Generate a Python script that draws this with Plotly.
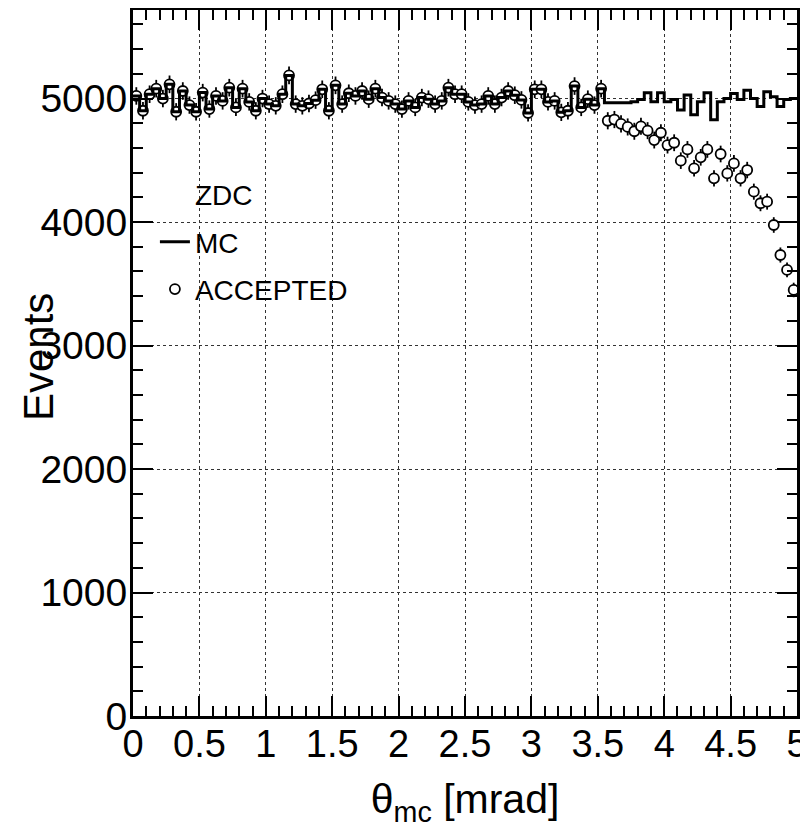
import numpy as np
import plotly.graph_objects as go

# binning of theta_mc [mrad]
n_bins = 100
x_min, x_max = 0.0, 5.0
edges = np.linspace(x_min, x_max, n_bins + 1)
centers = 0.5 * (edges[:-1] + edges[1:])

# ACCEPTED counts per bin
accepted_counts = [
    5021, 4901, 5035, 5080, 5000, 5115, 4893, 5061, 4947, 4893,
    5048, 4915, 5021, 4981, 5088, 4928, 5080, 4973, 4901, 5000,
    4955, 4941, 5035, 5187, 4955, 4941, 4960, 4987, 5075, 4901,
    5107, 4955, 5043, 5021, 5061, 4995, 5080, 5008, 4981, 4955,
    4915, 4981, 4928, 5008, 4995, 4955, 4981, 5088, 5035, 5035,
    4973, 4947, 4955, 5021, 4955, 5008, 5061, 5027, 4989, 4883,
    5075, 5075, 4973, 4981, 4888, 4901, 5101, 4928, 4995, 4947,
    5080, 4820, 4830, 4795, 4770, 4735, 4775, 4740, 4664, 4723,
    4623, 4642, 4497, 4588, 4435, 4524, 4588, 4354, 4551, 4394,
    4475, 4354, 4421, 4246, 4152, 4165, 3976, 3733, 3612, 3450,
]

# MC counts: same as accepted below 3.55 mrad (full acceptance), own values above
mc_tail = [
    4965, 4965, 4965, 4965, 4975, 4993, 5047, 4975, 5047,
    4975, 4993, 4908, 5028, 4868, 4975, 5047, 4828, 4975, 5001,
    5041, 4993, 5068, 5001, 4935, 5055, 5015, 4935, 4993, 5001,
]
mc_counts = accepted_counts[:71] + mc_tail

y_ticks = [0, 1000, 2000, 3000, 4000, 5000]
x_ticks = [0, 0.5, 1, 1.5, 2, 2.5, 3, 3.5, 4, 4.5, 5]
x_tick_labels = ["0", "0.5", "1", "1.5", "2", "2.5", "3", "3.5", "4", "4.5", "5"]

fig = go.Figure()

# invisible entry for the legend header
fig.add_trace(go.Scatter(x=[None], y=[None], mode="markers", name="ZDC",
                         marker=dict(color="rgba(0,0,0,0)", size=10),
                         legendrank=1, legendgroup="a"))

# accepted points with poisson errors (white fill hides the bar inside the circle)
fig.add_trace(go.Scatter(
    x=centers, y=accepted_counts, mode="markers", name="ACCEPTED",
    marker=dict(symbol="circle", size=10, color="white",
                line=dict(color="black", width=1.8)),
    error_y=dict(type="data", array=np.sqrt(accepted_counts), width=0,
                 thickness=1.8, color="black"),
    legendrank=3, legendgroup="c"))

# MC histogram drawn as a step outline
fig.add_trace(go.Scatter(
    x=edges, y=mc_counts + [mc_counts[-1]], mode="lines", name="MC",
    line=dict(color="black", width=3, shape="hv"),
    legendrank=2, legendgroup="b"))

# page body adds 8px around the figure, so margins are shifted by 8px
fig.update_layout(
    width=808, height=820,
    margin=dict(l=125, r=19, t=2, b=112),
    plot_bgcolor="white", paper_bgcolor="white",
    font=dict(family="Liberation Sans, Arial, sans-serif", color="black"),
    legend=dict(x=0.033, y=0.774, xanchor="left", yanchor="top",
                font=dict(size=28), bgcolor="rgba(0,0,0,0)",
                tracegroupgap=8, itemwidth=30),
    showlegend=True,
)

fig.update_xaxes(
    range=[x_min, x_max], tickvals=x_ticks, ticktext=x_tick_labels,
    ticks="inside", ticklen=20, tickwidth=2, tickcolor="black",
    minor=dict(dtick=0.1, ticks="inside", ticklen=10, tickwidth=2,
               tickcolor="black", showgrid=False),
    showline=True, linewidth=3, linecolor="black", mirror="ticks",
    showgrid=True, gridcolor="#333", griddash="dot", gridwidth=1,
    zeroline=False, tickfont=dict(size=38), ticklabelstandoff=-8,
    ticklabeloverflow="allow", automargin=False,
    title=dict(text="θ<sub>mc</sub> [mrad]", font=dict(size=41), standoff=28),
)

fig.update_yaxes(
    range=[0, 5717], tickvals=y_ticks,
    ticks="inside", ticklen=20, tickwidth=2, tickcolor="black",
    minor=dict(dtick=200, ticks="inside", ticklen=10, tickwidth=2,
               tickcolor="black", showgrid=False),
    showline=True, linewidth=3, linecolor="black", mirror="ticks",
    showgrid=True, gridcolor="#333", griddash="dot", gridwidth=1,
    zeroline=False, tickfont=dict(size=39), ticklabelstandoff=-5,
    automargin=False,
)

# y title placed by hand, it overlaps the tick labels like in the original
fig.add_annotation(text="Events", textangle=-90, showarrow=False,
                   xref="paper", yref="paper", x=-0.142, y=0.508,
                   xanchor="center", yanchor="middle", font=dict(size=42))

fig.write_html("out.html")
